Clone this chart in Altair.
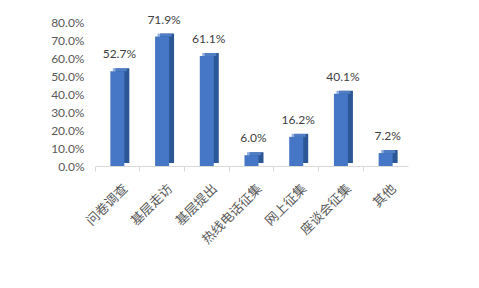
import altair as alt
import pandas as pd

categories = ["问卷调查", "基层走访", "基层提出", "热线电话征集", "网上征集", "座谈会征集", "其他"]
values = [0.527, 0.719, 0.611, 0.060, 0.162, 0.401, 0.072]
y_ticks = [0.0, 0.1, 0.2, 0.3, 0.4, 0.5, 0.6, 0.7, 0.8]

df = pd.DataFrame({"cat": categories, "val": values})

FRONT = "#4677C6"
SIDE = "#2C5797"
TOP = "#5F8DD6"

base = alt.Chart(df).encode(
    x=alt.X(
        "cat:N",
        sort=categories,
        scale=alt.Scale(paddingInner=0, paddingOuter=0),
        axis=alt.Axis(
            title=None,
            labelAngle=-45,
            labelFont="Noto Sans CJK SC",
            labelFontSize=13,
            labelColor="#595959",
            labelPadding=11,
            labelOffset=4,
            domainColor="#D9D9D9",
            tickColor="#D9D9D9",
            tickSize=5,
            bandPosition=0,
            grid=False,
        ),
    ),
    y=alt.Y(
        "val:Q",
        scale=alt.Scale(domain=[0, 0.8], nice=False),
        axis=alt.Axis(
            title=None,
            values=y_ticks,
            format=".1%",
            labelFont="Lato",
            labelFontSize=12,
            labelColor="#595959",
            labelPadding=11,
            domain=False,
            ticks=False,
            grid=False,
        ),
    ),
)

side = base.mark_bar(width=14, xOffset=5, yOffset=-3, color=SIDE)
top = base.mark_tick(thickness=3, size=14, xOffset=2.5, yOffset=-1.5, color=TOP)
front = base.mark_bar(width=14, color=FRONT)
text = base.mark_text(
    dy=-10, dx=2, font="Lato", fontSize=12, color="#404040", baseline="bottom"
).encode(text=alt.Text("val:Q", format=".1%"))

chart = (
    alt.layer(side, top, front, text)
    .properties(
        width=313,
        height=144,
        padding={"left": 95, "top": 22, "right": 71, "bottom": 122},
        autosize="none",
        background="white",
    )
    .configure_view(stroke=None)
)

chart.save("out.html", embed_options={"renderer": "svg", "actions": False})
